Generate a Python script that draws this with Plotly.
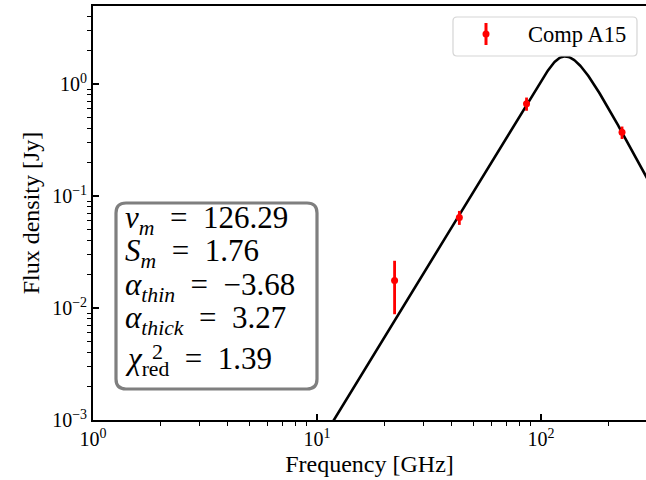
import numpy as np
import plotly.graph_objects as go

# Measured flux densities of component A15
freq_ghz = [22.2, 43.2, 86.2, 230.0]
flux_jy = [0.0176, 0.0644, 0.667, 0.370]
flux_err = [0.0088, 0.0092, 0.090, 0.047]
comp_name = "Comp A15"

# Best-fit parameters of the self-absorbed synchrotron spectrum
nu_m = 126.29
s_m = 1.76
alpha_thin = -3.68
alpha_thick = 3.27
chi2_red = 1.39

# Axis ticks
x_major = [1, 10, 100]
x_major_text = ["10<sup>0</sup>", "10<sup>1</sup>", "10<sup>2</sup>"]
x_minor = [m * d for d in (1, 10, 100) for m in range(2, 10)]
y_major = [1e-3, 1e-2, 1e-1, 1]
y_major_text = ["10<sup>\u22123</sup>", "10<sup>\u22122</sup>", "10<sup>\u22121</sup>", "10<sup>0</sup>"]
y_minor = [m * d for d in (1e-3, 1e-2, 1e-1, 1) for m in range(2, 10)]

# Model curve (Turler et al. 1999 form)
tau_m = 1.5 * (np.sqrt(1 - 8 * alpha_thin / (3 * alpha_thick)) - 1)
nu = np.logspace(0.9, 2.6, 500)
x = nu / nu_m
s_model = s_m * x ** alpha_thick * (1 - np.exp(-tau_m * x ** (alpha_thin - alpha_thick))) / (1 - np.exp(-tau_m))

W, H = 646, 480
PL, PR, PT, PB = 93, 646, 6, 420
DEC_X = 224.0
DEC_Y = 112.0
FONT = "Liberation Serif"
EQ = "\u2002=\u2002"


def px(xp):
    return (xp - PL) / (PR - PL)


def py(yp):
    return (PB - yp) / (PB - PT)


def rounded_rect(x0, y0, x1, y1, r):
    """Rounded rectangle path in paper units from pixel corners."""
    pts = [
        f"M {px(x0 + r)},{py(y0)}",
        f"L {px(x1 - r)},{py(y0)}",
        f"Q {px(x1)},{py(y0)} {px(x1)},{py(y0 + r)}",
        f"L {px(x1)},{py(y1 - r)}",
        f"Q {px(x1)},{py(y1)} {px(x1 - r)},{py(y1)}",
        f"L {px(x0 + r)},{py(y1)}",
        f"Q {px(x0)},{py(y1)} {px(x0)},{py(y1 - r)}",
        f"L {px(x0)},{py(y0 + r)}",
        f"Q {px(x0)},{py(y0)} {px(x0 + r)},{py(y0)}",
        "Z",
    ]
    return " ".join(pts)


fig = go.Figure()

fig.add_trace(go.Scatter(
    x=nu, y=s_model, mode="lines",
    line=dict(color="black", width=2.6),
    showlegend=False, hoverinfo="skip",
))

fig.add_trace(go.Scatter(
    x=freq_ghz, y=flux_jy, mode="markers", name=comp_name,
    marker=dict(color="red", size=7),
    error_y=dict(type="data", array=flux_err, color="red", thickness=2.8, width=0),
    showlegend=False,
))

shapes = []
annotations = []

# Parameter box
shapes.append(dict(
    type="path", xref="paper", yref="paper",
    path=rounded_rect(116, 203, 317, 389, 10),
    line=dict(color="#7f7f7f", width=3.2), fillcolor="white", layer="above",
))

box_font = dict(family=FONT, size=31, color="black")
rows = [
    ("<i>\u03bd<sub>m</sub></i>" + EQ + f"{nu_m:.2f}", 220),
    ("<i>S<sub>m</sub></i>" + EQ + f"{s_m:.2f}", 253),
    ("<i>\u03b1<sub>thin</sub></i>" + EQ + f"\u2212{abs(alpha_thin):.2f}", 287),
    ("<i>\u03b1<sub>thick</sub></i>" + EQ + f"{alpha_thick:.2f}", 320),
    ("<i>\u03c7</i><sub>red</sub>" + EQ + f"{chi2_red:.2f}", 361),
]
for txt, yc in rows:
    annotations.append(dict(
        text=txt, xref="paper", yref="paper", x=px(123), y=py(yc),
        xanchor="left", yanchor="middle", showarrow=False, font=box_font,
    ))
annotations.append(dict(
    text="2", xref="paper", yref="paper", x=px(150), y=py(351),
    xanchor="left", yanchor="middle", showarrow=False,
    font=dict(family=FONT, size=22, color="black"),
))

# Legend
shapes.append(dict(
    type="path", xref="paper", yref="paper",
    path=rounded_rect(453, 17, 637, 56, 4),
    line=dict(color="#d5d5d5", width=1.2), fillcolor="white", layer="above",
))
shapes.append(dict(
    type="line", xref="paper", yref="paper",
    x0=px(486), x1=px(486), y0=py(23), y1=py(45),
    line=dict(color="red", width=3), layer="above",
))
shapes.append(dict(
    type="circle", xref="paper", yref="paper",
    x0=px(482.5), x1=px(489.5), y0=py(37.5), y1=py(30.5),
    line=dict(color="red", width=0), fillcolor="red", layer="above",
))
annotations.append(dict(
    text=comp_name, xref="paper", yref="paper", x=px(526), y=py(35),
    xanchor="left", yanchor="middle", showarrow=False,
    font=dict(family=FONT, size=22.5, color="black"),
))

fig.update_layout(
    width=W, height=H,
    margin=dict(l=PL, r=W - PR, t=PT, b=H - PB, pad=0),
    paper_bgcolor="white", plot_bgcolor="white",
    font=dict(family=FONT, color="black"),
    shapes=shapes, annotations=annotations,
    showlegend=False,
)

fig.update_xaxes(
    type="log", range=[0, (PR - PL) / DEC_X],
    tickvals=x_major, ticktext=x_major_text,
    ticks="inside", ticklen=6, tickwidth=1.5, tickcolor="black",
    minor=dict(tickvals=x_minor, ticks="outside", ticklen=4, tickwidth=1.2,
               tickcolor="black", showgrid=False),
    tickfont=dict(family=FONT, size=20, color="black"),
    showline=True, linecolor="black", linewidth=1.8, mirror=True,
    showgrid=False, zeroline=False,
    title=dict(text="Frequency [GHz]", font=dict(family=FONT, size=24, color="black"), standoff=6),
)
fig.update_yaxes(
    type="log", range=[-3, -3 + (PB - PT) / DEC_Y],
    tickvals=y_major, ticktext=y_major_text,
    ticks="inside", ticklen=6, tickwidth=1.5, tickcolor="black",
    minor=dict(tickvals=y_minor, ticks="outside", ticklen=4, tickwidth=1.2,
               tickcolor="black", showgrid=False),
    tickfont=dict(family=FONT, size=20, color="black"),
    showline=True, linecolor="black", linewidth=1.8,
    showgrid=False, zeroline=False,
    title=dict(text="Flux density [Jy]", font=dict(family=FONT, size=24, color="black"), standoff=6),
)

fig.write_html("out.html")
